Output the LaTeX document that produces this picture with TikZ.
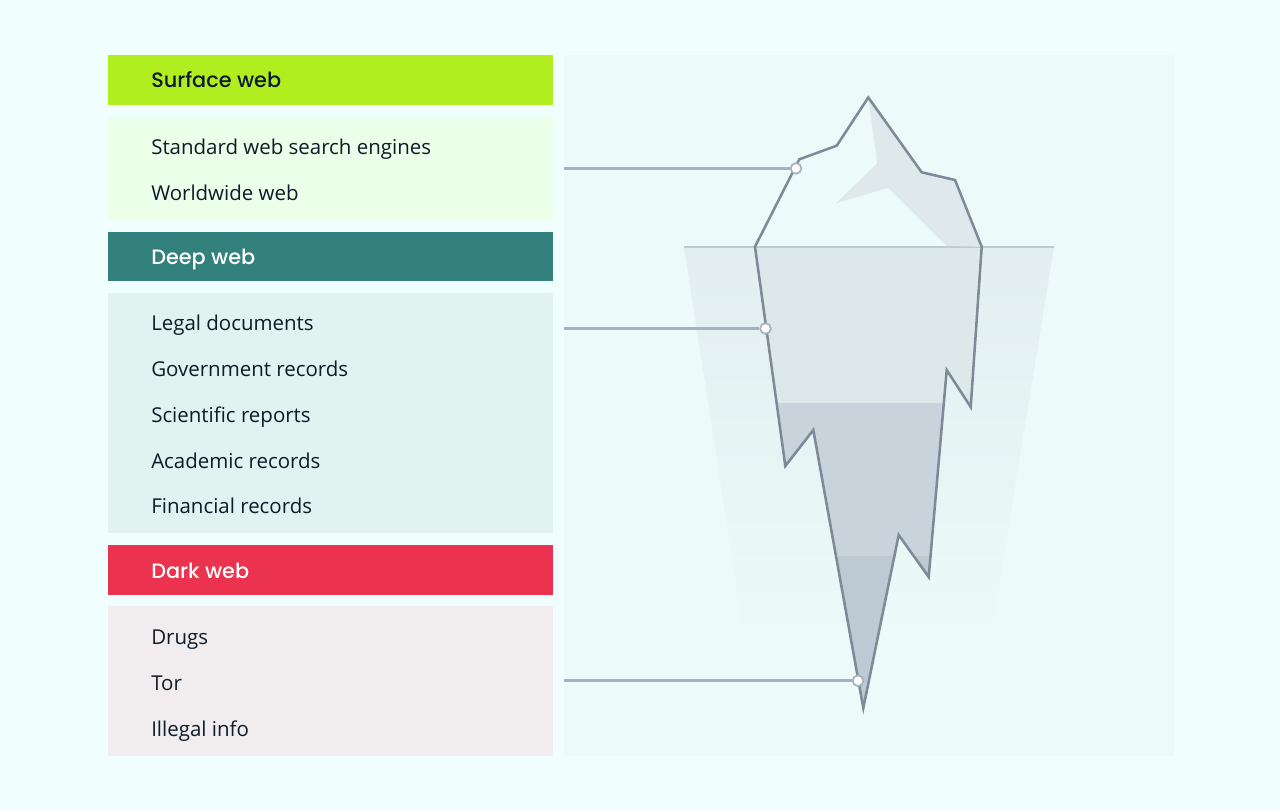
\documentclass[tikz,border=0pt]{standalone}
\usepackage{fontspec}
\setmainfont{Open Sans}
\newfontfamily\headfont{Poppins}[UprightFont=* Medium]
\definecolor{pagebg}{HTML}{F0FFFE}
\definecolor{panelbg}{HTML}{ECFAF9}
\definecolor{surfacehead}{HTML}{B1EE20}
\definecolor{surfacelist}{HTML}{EBFFE9}
\definecolor{deephead}{HTML}{33817C}
\definecolor{deeplist}{HTML}{E1F2F0}
\definecolor{darkhead}{HTML}{EB334F}
\definecolor{darklist}{HTML}{F1ECEE}
\definecolor{inktext}{HTML}{0D1B2A}
\definecolor{bergline}{HTML}{7C8A9A}
\definecolor{leadline}{HTML}{A5B3C0}
\definecolor{waterline}{HTML}{BACCCE}
\definecolor{bergshade}{HTML}{DFE9EB}
\definecolor{bandone}{HTML}{DDE8EB}
\definecolor{bandtwo}{HTML}{C8D3DC}
\definecolor{bandthree}{HTML}{BDC9D3}
\tikzset{
	headtext/.style={anchor=base west, inner sep=0pt, font=\headfont\fontsize{15.6}{18}\selectfont},
	itemtext/.style={anchor=base west, inner sep=0pt, text=inktext, font=\fontsize{15.35}{18}\selectfont},
	leadline/.style={draw=leadline, line width=1.9pt},
	leaddot/.style={circle, draw=leadline, fill=white, line width=1.3pt, minimum size=8pt, inner sep=0pt},
	bergedge/.style={draw=bergline, line width=1.9pt, line join=miter}
}
\begin{document}
\begin{tikzpicture}[x=0.75pt, y=-0.75pt]
	\useasboundingbox (0,0) rectangle (1280,811);
	\fill[pagebg] (0,0) rectangle (1280,811);
	\fill[panelbg] (564,55) rectangle (1174,756);

	% left column
	\fill[surfacehead] (108,55) rectangle (553,105);
	\fill[surfacelist] (108,117) rectangle (553,220);
	\fill[deephead] (108,232) rectangle (553,281);
	\fill[deeplist] (108,293) rectangle (553,533);
	\fill[darkhead] (108,545) rectangle (553,595);
	\fill[darklist] (108,606) rectangle (553,756);

	\node[headtext, text=inktext] (surface) at (151,87) {Surface web};
	\node[itemtext] (engines) at (151,154) {Standard web search engines};
	\node[itemtext] (worldwide) at (151,200) {Worldwide web};

	\node[headtext, text=white] (deep) at (151,264) {Deep web};
	\node[itemtext] (legal) at (151,330) {Legal documents};
	\node[itemtext] (government) at (151,376) {Government records};
	\node[itemtext] (scientific) at (151,422) {Scientific reports};
	\node[itemtext] (academic) at (151,468) {Academic records};
	\node[itemtext] (financial) at (151,513) {Financial records};

	\node[headtext, text=white] (dark) at (151,578) {Dark web};
	\node[itemtext] (drugs) at (151,644) {Drugs};
	\node[itemtext] (tor) at (151,690) {Tor};
	\node[itemtext] (illegal) at (151,736) {Illegal info};

	% water
	\shade[top color=bandone!65!panelbg, middle color=bandone!25!panelbg, bottom color=panelbg] (684,247) -- (1054,247) -- (990,640) -- (745,640) -- cycle;
	\draw[waterline, line width=1.9pt] (684,247) -- (1054,247);

	% iceberg
	\fill[bergshade] (868.3,97) -- (870,110) -- (877.3,163.3) -- (836,203.3) -- (888.3,187.7) -- (946.7,246) -- (981.7,246.7) -- (955,180) -- (921.7,172.3) -- cycle;
	\begin{scope}
		\clip (755,246.7) -- (785.3,466) -- (813.3,430) -- (863.3,708) -- (898.7,535) -- (928.7,577) -- (946.7,370) -- (970.7,407) -- (981.7,246.7) -- cycle;
		\fill[bandone] (740,248) rectangle (990,403);
		\fill[bandtwo] (740,403) rectangle (990,556);
		\fill[bandthree] (740,556) rectangle (990,715);
	\end{scope}
	\draw[bergedge] (868.3,97.5) -- (836.7,145.7) -- (799.3,159.3) -- (755,246.7) -- (785.3,466) -- (813.3,430) -- (863.3,708) -- (898.7,535) -- (928.7,577) -- (946.7,370) -- (970.7,407) -- (981.7,246.7) -- (955,180) -- (921.7,172.3) -- cycle;

	% leaders
	\coordinate (startA) at (564,168.4);
	\coordinate (startB) at (564,328.5);
	\coordinate (startC) at (564,680.7);
	\node[leaddot] (dotA) at (796,168.4) {};
	\node[leaddot] (dotB) at (765.5,328.5) {};
	\node[leaddot] (dotC) at (858,680.7) {};
	\draw[leadline] (startA) -- (dotA);
	\draw[leadline] (startB) -- (dotB);
	\draw[leadline] (startC) -- (dotC);
\end{tikzpicture}
\end{document}
